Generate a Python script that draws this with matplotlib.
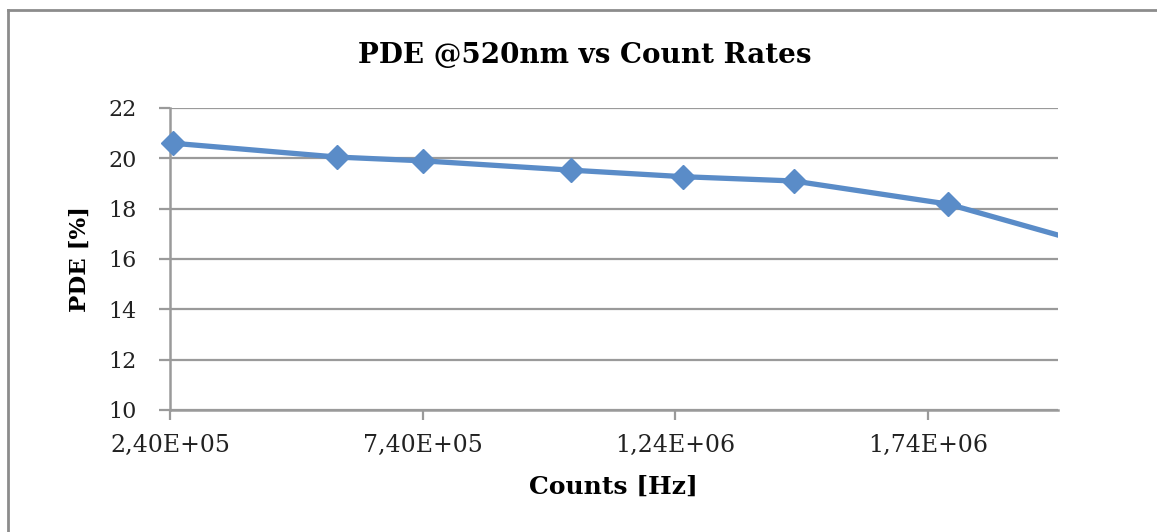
import matplotlib
matplotlib.use("Agg")
import matplotlib.pyplot as plt
from matplotlib.lines import Line2D

counts = [2.46e5, 5.71e5, 7.41e5, 1.034e6, 1.256e6, 1.474e6, 1.78e6, 2.2e6]
pde = [20.6, 20.05, 19.9, 19.53, 19.27, 19.1, 18.18, 15.8]
x_ticks = [2.4e5, 7.4e5, 1.24e6, 1.74e6]
x_ticklabels = ["2,40E+05", "7,40E+05", "1,24E+06", "1,74E+06"]
y_ticks = [10, 12, 14, 16, 18, 20, 22]

W, H = 1157, 532
fig = plt.figure(figsize=(W / 100, H / 100), dpi=100)
ax = fig.add_axes([170 / W, 1 - 410 / H, (1058 - 170) / W, (410 - 108) / H])

grid_c = "#9a9a9a"
blue = "#5A8CC8"
xmin, xmax = 2.4e5, 1.997e6
ax.plot(counts, pde, color=blue, lw=3.8, zorder=3, solid_joinstyle="round")
vis = [(c, p) for c, p in zip(counts, pde) if xmin <= c <= xmax]
ax.plot([c for c, _ in vis], [p for _, p in vis], ls="none", marker="D", markersize=12,
        markeredgecolor=blue, markerfacecolor=blue, zorder=4, clip_on=False)
ax.set_xlim(xmin, xmax)
ax.set_ylim(10, 22)
ax.set_yticks(y_ticks)
ax.set_xticks(x_ticks)
ax.set_xticklabels(x_ticklabels, family="DejaVu Serif", fontsize=17, color="#222222")
ax.set_yticklabels([str(v) for v in y_ticks], family="DejaVu Serif", fontsize=16, color="#222222")
ax.grid(axis="y", color=grid_c, lw=1.6)
ax.set_axisbelow(True)
for s in ["top", "right"]:
    ax.spines[s].set_visible(False)
for s in ["left", "bottom"]:
    ax.spines[s].set_color(grid_c)
    ax.spines[s].set_linewidth(1.8)
ax.tick_params(axis="y", length=8, width=1.6, color=grid_c, pad=16)
ax.tick_params(axis="x", length=7, width=1.6, color=grid_c, pad=10)

fig.text(613 / W, 1 - 487 / H, "Counts [Hz]", family="DejaVu Serif", fontweight="bold",
         fontsize=18, ha="center", va="center")
fig.text(80 / W, 1 - 259 / H, "PDE [%]", family="DejaVu Serif", fontweight="bold",
         fontsize=16.5, ha="center", va="center", rotation=90)
fig.text(585 / W, 1 - 56 / H, "PDE @520nm vs Count Rates", family="DejaVu Serif",
         fontweight="bold", fontsize=20, ha="center", va="center")

fig.add_artist(Line2D([8 / W, 8 / W], [0, 1 - 10 / H], transform=fig.transFigure, color="#8c8c8c", lw=2))
fig.add_artist(Line2D([8 / W, 1], [1 - 10 / H, 1 - 10 / H], transform=fig.transFigure, color="#8c8c8c", lw=2))

fig.savefig("out.png", dpi=100)
